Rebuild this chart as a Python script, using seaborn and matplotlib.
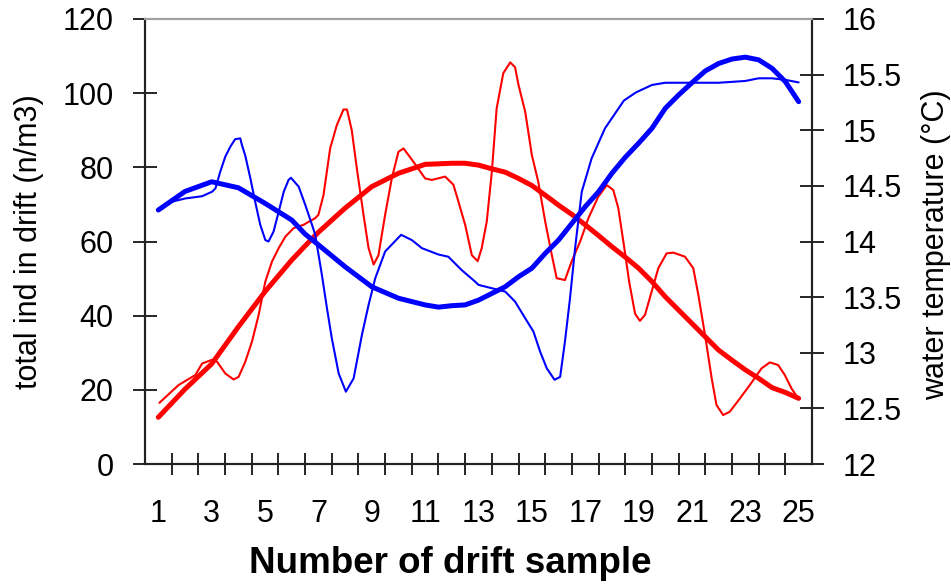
import matplotlib
matplotlib.use("Agg")
import matplotlib.pyplot as plt
import seaborn as sns
import pandas as pd
import numpy as np

# ---- data ----
# thin red: total individuals in drift (n/m3)
drift_x = [1.04, 1.76, 2.39, 2.64, 3.01, 3.2, 3.51, 3.82, 4.01, 4.26, 4.51, 4.76, 5.01,
           5.26, 5.51, 5.76, 6.07, 6.44, 6.88, 7.0, 7.19, 7.44, 7.69, 7.94, 8.07, 8.25,
           8.44, 8.69, 8.88, 9.07, 9.25, 9.5, 9.75, 10.0, 10.19, 10.56, 11.0, 11.25,
           11.75, 12.06, 12.25, 12.5, 12.75, 12.97, 13.12, 13.31, 13.5, 13.68, 13.93,
           14.19, 14.37, 14.5, 14.75, 15.0, 15.24, 15.5, 15.75, 15.93, 16.24, 16.49,
           16.81, 17.12, 17.49, 17.81, 18.05, 18.24, 18.45, 18.65, 18.87, 19.05, 19.24,
           19.49, 19.74, 20.05, 20.3, 20.74, 21.05, 21.24, 21.49, 21.74, 21.92, 22.17,
           22.42, 22.8, 23.17, 23.61, 23.92, 24.23, 24.48, 24.73, 24.98]
drift_y = [16.5, 21.3, 24.0, 27.1, 28.1, 27.6, 24.4, 22.8, 23.5, 27.6, 33.0, 40.2, 49.2,
           54.6, 58.2, 61.3, 63.6, 64.5, 66.3, 67.2, 72.5, 85.1, 91.4, 95.6, 95.6, 90.0,
           79.7, 67.2, 58.2, 53.8, 56.3, 67.2, 77.0, 84.2, 85.1, 81.5, 77.0, 76.6,
           77.5, 75.3, 70.7, 64.5, 56.3, 54.7, 58.2, 65.4, 78.8, 95.9, 105.4,
           108.3, 107.0, 102.2, 95.0, 83.3, 76.1, 65.4, 56.3, 50.1, 49.6, 54.6,
           60.0, 66.3, 72.1, 75.2, 73.9, 69.0, 59.0, 49.0, 40.5, 38.6, 40.2,
           46.5, 52.8, 56.8, 57.0, 55.9, 52.8, 45.6, 34.8, 23.1, 15.9, 13.2,
           14.1, 17.7, 21.3, 25.8, 27.4, 26.7, 24.0, 20.4, 17.7]

# thick red: drift trend
drift_trend_x = [1, 2, 3, 4, 5, 6, 6.5, 7, 8, 9, 10, 11, 12, 12.5, 13, 13.5, 14, 14.5, 15,
                 15.5, 16, 16.5, 17, 17.5, 18, 18.5, 19, 19.5, 20, 20.5, 21, 21.5, 22,
                 22.5, 23, 23.5, 24, 24.5, 25]
drift_trend_y = [12.6, 20.2, 27.0, 37.0, 46.5, 55.0, 58.8, 62.5, 69.0, 74.8, 78.4, 80.8,
                 81.1, 81.1, 80.6, 79.6, 78.7, 77.0, 75.1, 72.5, 69.8, 67.3, 64.5, 61.6,
                 58.6, 55.8, 52.8, 49.2, 45.1, 41.5, 37.9, 34.3, 30.7, 28.0, 25.4, 23.1,
                 20.6, 19.3, 17.7]

# thin blue: water temperature (°C)
temp_x = [1.04, 1.5, 2.01, 2.64, 3.01, 3.14, 3.32, 3.51, 3.70, 3.88, 4.07, 4.13, 4.26,
          4.45, 4.63, 4.82, 5.01, 5.13, 5.32, 5.51, 5.7, 5.88, 5.97, 6.26, 6.51, 6.76,
          6.88, 7.13, 7.32, 7.5, 7.76, 8.03, 8.32, 8.63, 8.88, 9.13, 9.5, 10.1, 10.5,
          10.88, 11.5, 11.87, 12.37, 12.87, 13.0, 13.5, 14.0, 14.37, 14.75, 15.06,
          15.31, 15.56, 15.85, 16.06, 16.24, 16.43, 16.62, 16.87, 17.24, 17.74, 18.45,
          18.9, 19.5, 20.0, 22.0, 23.0, 23.5, 24.0, 24.5, 25.0]
temp_y = [14.283, 14.357, 14.387, 14.407, 14.447, 14.477, 14.627, 14.763, 14.853, 14.92,
          14.927, 14.87, 14.77, 14.567, 14.357, 14.15, 14.013, 14.0, 14.09, 14.267,
          14.447, 14.553, 14.573, 14.493, 14.327, 14.15, 14.06, 13.7, 13.4, 13.133,
          12.813, 12.65, 12.77, 13.16, 13.43, 13.67, 13.91, 14.06, 14.013, 13.94,
          13.883, 13.863, 13.743, 13.64, 13.61, 13.58, 13.55, 13.46, 13.31, 13.19,
          13.01, 12.86, 12.757, 12.783, 13.1, 13.49, 13.94, 14.447, 14.747, 15.017,
          15.267, 15.34, 15.407, 15.427, 15.427, 15.443, 15.467, 15.467, 15.453, 15.43]

# thick blue: temperature trend
temp_trend_x = [1, 2, 3, 4, 5, 6, 6.5, 7, 8, 9, 10, 11, 11.5, 12, 12.5, 13, 13.5, 14,
                14.5, 15, 15.5, 16, 16.5, 17, 17.5, 18, 18.5, 19, 19.5, 20, 20.5, 21,
                21.5, 22, 22.5, 23, 23.5, 24, 24.5, 25]
temp_trend_y = [14.283, 14.45, 14.537, 14.483, 14.343, 14.193, 14.067, 13.97, 13.773,
                13.593, 13.49, 13.43, 13.41, 13.423, 13.43, 13.473, 13.533, 13.593,
                13.683, 13.76, 13.893, 14.013, 14.163, 14.313, 14.447, 14.613, 14.757,
                14.883, 15.017, 15.197, 15.317, 15.427, 15.533, 15.6, 15.64, 15.657,
                15.633, 15.557, 15.437, 15.257]

x_tick_labels = [str(v) for v in range(1, 26, 2)]
left_ticks = [0, 20, 40, 60, 80, 100, 120]
right_ticks = [12, 12.5, 13, 13.5, 14, 14.5, 15, 15.5, 16]
right_tick_labels = ["12", "12.5", "13", "13.5", "14", "14.5", "15", "15.5", "16"]

# ---- figure ----
sns.set_theme(style="white")
plt.rcParams["font.family"] = ["Liberation Sans", "DejaVu Sans"]

fig = plt.figure(figsize=(9.51, 5.86), dpi=100)
ax = fig.add_axes([145 / 951, 1 - 464 / 586, 667 / 951, 445 / 586])
ax2 = ax.twinx()

RED = "#ff0000"
BLUE = "#0000ff"

df_drift = pd.DataFrame({"x": drift_x, "y": drift_y})
df_drift_t = pd.DataFrame({"x": drift_trend_x, "y": drift_trend_y})
df_temp = pd.DataFrame({"x": temp_x, "y": temp_y})
df_temp_t = pd.DataFrame({"x": temp_trend_x, "y": temp_trend_y})

sns.lineplot(data=df_drift, x="x", y="y", ax=ax, color=RED, lw=1.5,
             estimator=None, sort=False)
sns.lineplot(data=df_drift_t, x="x", y="y", ax=ax, color=RED, lw=3.6,
             estimator=None, sort=False, solid_capstyle="round")
sns.lineplot(data=df_temp, x="x", y="y", ax=ax2, color=BLUE, lw=1.5,
             estimator=None, sort=False)
sns.lineplot(data=df_temp_t, x="x", y="y", ax=ax2, color=BLUE, lw=3.6,
             estimator=None, sort=False, solid_capstyle="round")

ax.set_xlim(0.5, 25.5)
ax.set_ylim(0, 120)
ax2.set_ylim(12, 16)

ax.set_xticks(range(1, 26, 2))
ax.set_xticklabels(x_tick_labels)
ax.set_xticks(np.arange(1.5, 25, 1.0), minor=True)
ax.tick_params(axis="x", which="major", length=0, pad=25, labelsize=22, labelcolor="black")
ax.tick_params(axis="x", which="minor", direction="inout", length=16, width=1.2,
               color="black", bottom=True)

ax.set_yticks(left_ticks)
ax.tick_params(axis="y", which="major", direction="inout", length=17, width=1.2,
               color="black", pad=14, labelsize=22, labelcolor="black", left=True)
ax2.set_yticks(right_ticks)
ax2.set_yticklabels(right_tick_labels)
ax2.tick_params(axis="y", which="major", direction="inout", length=17, width=1.2,
                color="black", pad=13.5, labelsize=22, labelcolor="black", right=True)

for a in (ax, ax2):
    a.grid(False)
    for side in ("left", "right", "bottom"):
        a.spines[side].set_color("#222222")
        a.spines[side].set_linewidth(1.5)
    a.spines["top"].set_color("#a0a0a0")
    a.spines["top"].set_linewidth(1.5)

ax.set_xlabel("Number of drift sample", fontsize=26.5, fontweight="bold", color="black")
ax.xaxis.set_label_coords(0.457, -0.185)
ax.set_ylabel("total ind in drift (n/m3)", fontsize=22, color="black")
ax.yaxis.set_label_coords(-0.152, 0.5)
ax2.set_ylabel("water temperature (°C)", fontsize=22, color="black")
ax2.yaxis.set_label_coords(1.164, 0.492)

fig.savefig("out.png", dpi=100, facecolor="white")
